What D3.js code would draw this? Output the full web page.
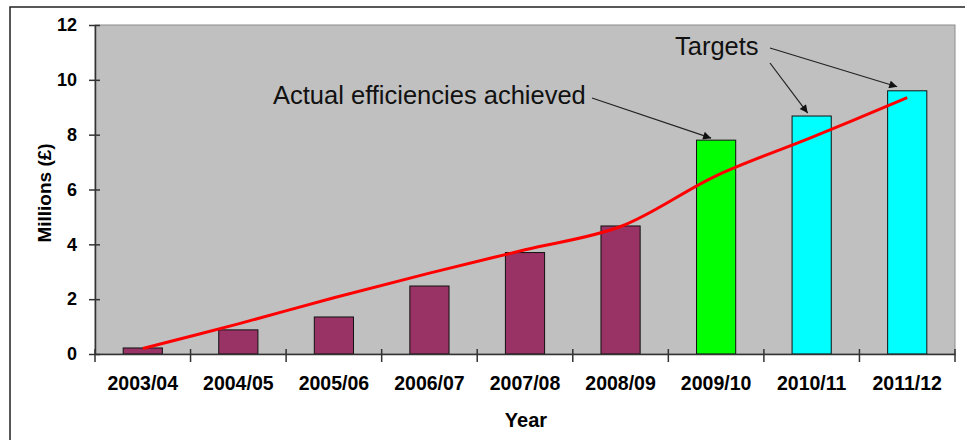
<!DOCTYPE html>
<html>
<head>
<meta charset="utf-8">
<script src="https://cdn.jsdelivr.net/npm/d3@7"></script>
<style>
  html, body { margin: 0; padding: 0; background: #fff; }
  svg { display: block; font-family: Arial, "Liberation Sans", sans-serif; }
</style>
</head>
<body>
<svg id="chart" width="965" height="440"></svg>
<script>
// Efficiency savings per year, £ millions
const years = ["2003/04", "2004/05", "2005/06", "2006/07", "2007/08", "2008/09", "2009/10", "2010/11", "2011/12"];
const savings = [0.22, 0.88, 1.35, 2.48, 3.7, 4.67, 7.8, 8.68, 9.6];
const barKinds = ["actual", "actual", "actual", "actual", "actual", "actual", "achieved", "target", "target"];
const trend = [0.2, 1.1, 2.05, 2.95, 3.8, 4.65, 6.5, 7.9, 9.35];
const yTicks = [0, 2, 4, 6, 8, 10, 12];

const kindColour = { actual: "#993366", achieved: "#00ff00", target: "#00ffff" };

const svg = d3.select("#chart");
const W = 965, H = 440;
const plot = { left: 95, right: 955, top: 25, bottom: 354 };

// outer chart frame (top and left edges)
svg.append("path")
  .attr("d", `M10,${H} L10,7 L${W},7`)
  .attr("fill", "none").attr("stroke", "#222").attr("stroke-width", 1.5);

const x = d3.scaleBand().domain(years).range([plot.left, plot.right]).paddingInner(0.59).paddingOuter(0.295);
const y = d3.scaleLinear().domain([0, 12]).range([plot.bottom, plot.top]);

// plot area
svg.append("rect")
  .attr("x", plot.left).attr("y", plot.top)
  .attr("width", plot.right - plot.left).attr("height", plot.bottom - plot.top)
  .attr("fill", "#c0c0c0").attr("stroke", "#8c8c8c").attr("stroke-width", 1);

// bars
svg.append("g").selectAll("rect").data(years).join("rect")
  .attr("x", d => x(d))
  .attr("y", (d, i) => y(savings[i]))
  .attr("width", x.bandwidth())
  .attr("height", (d, i) => y(0) - y(savings[i]))
  .attr("fill", (d, i) => kindColour[barKinds[i]])
  .attr("stroke", "#111").attr("stroke-width", 1);

// smoothed trend line
const line = d3.line()
  .x((d, i) => x(years[i]) + x.bandwidth() / 2)
  .y(d => y(d))
  .curve(d3.curveCatmullRom.alpha(0.5));
svg.append("path").datum(trend)
  .attr("d", line)
  .attr("fill", "none").attr("stroke", "#ff0000").attr("stroke-width", 3);

// y axis
const yAxis = d3.axisLeft(y).tickValues(yTicks).tickSize(0).tickPadding(18);
const gy = svg.append("g").attr("transform", `translate(${plot.left},0)`).call(yAxis);
gy.select(".domain").attr("stroke", "#333").attr("stroke-width", 1.5);
gy.selectAll(".tick line").remove();
gy.selectAll(".tick").append("line")
  .attr("x1", -6).attr("x2", 5).attr("stroke", "#333").attr("stroke-width", 1.5);
gy.selectAll(".tick text")
  .attr("font-size", 18).attr("font-weight", "bold").attr("fill", "#000")
  .attr("font-family", "Arial, 'Liberation Sans', sans-serif");

// x axis with category-boundary ticks
const xAxis = d3.axisBottom(x).tickSize(0).tickPadding(22);
const gx = svg.append("g").attr("transform", `translate(0,${plot.bottom})`).call(xAxis);
gx.select(".domain").attr("stroke", "#333").attr("stroke-width", 1.5);
gx.selectAll(".tick text")
  .attr("font-size", 19.5).attr("font-weight", "bold").attr("fill", "#000")
  .attr("font-family", "Arial, 'Liberation Sans', sans-serif");
const step = x.step();
const bounds = d3.range(years.length + 1).map(i => plot.left + i * step);
gx.append("g").selectAll("line").data(bounds).join("line")
  .attr("x1", d => d).attr("x2", d => d)
  .attr("y1", -5).attr("y2", 8)
  .attr("stroke", "#333").attr("stroke-width", 1.5);

// axis titles
svg.append("text")
  .attr("x", (plot.left + plot.right) / 2 + 1).attr("y", 427)
  .attr("text-anchor", "middle").attr("font-size", 20).attr("font-weight", "bold")
  .text("Year");
svg.append("text")
  .attr("transform", `translate(51,193) rotate(-90)`)
  .attr("text-anchor", "middle").attr("font-size", 19).attr("font-weight", "bold")
  .text("Millions (£)");

// annotations
const defs = svg.append("defs");
defs.append("marker")
  .attr("id", "arrow").attr("viewBox", "0 0 10 10")
  .attr("refX", 10).attr("refY", 5)
  .attr("markerWidth", 10).attr("markerHeight", 8)
  .attr("markerUnits", "userSpaceOnUse")
  .attr("orient", "auto")
  .append("path").attr("d", "M0,0 L10,5 L0,10 Z").attr("fill", "#111");

const cx = i => x(years[i]) + x.bandwidth() / 2;

svg.append("text")
  .attr("x", 273).attr("y", 104)
  .attr("font-size", 25.5).attr("fill", "#111")
  .text("Actual efficiencies achieved");
svg.append("line")
  .attr("x1", 592).attr("y1", 98).attr("x2", cx(6) - 5).attr("y2", y(savings[6]) - 2)
  .attr("stroke", "#222").attr("stroke-width", 1.2).attr("marker-end", "url(#arrow)");

svg.append("text")
  .attr("x", 675).attr("y", 55)
  .attr("font-size", 25.5).attr("fill", "#111")
  .text("Targets");
svg.append("line")
  .attr("x1", 770).attr("y1", 48).attr("x2", cx(8) - 10).attr("y2", y(savings[8]) - 4)
  .attr("stroke", "#222").attr("stroke-width", 1.2).attr("marker-end", "url(#arrow)");
svg.append("line")
  .attr("x1", 770).attr("y1", 63).attr("x2", cx(7) - 4).attr("y2", y(savings[7]) - 3)
  .attr("stroke", "#222").attr("stroke-width", 1.2).attr("marker-end", "url(#arrow)");
</script>
</body>
</html>
